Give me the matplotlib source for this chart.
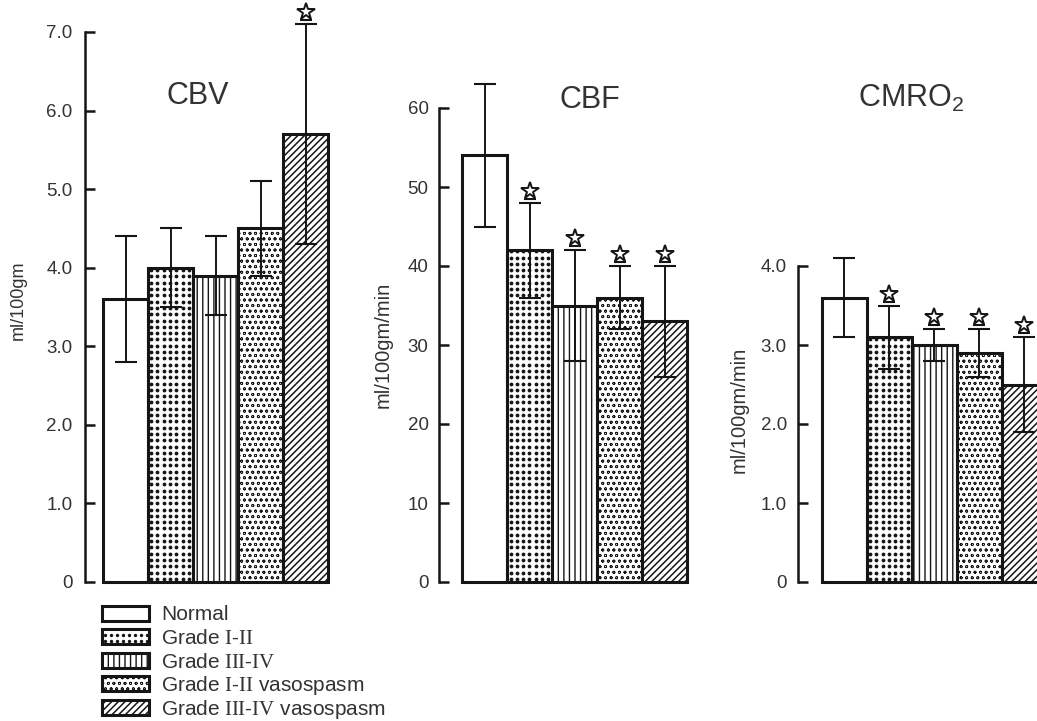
import matplotlib
matplotlib.use("Agg")
import matplotlib.pyplot as plt
from matplotlib.patches import Rectangle
from matplotlib.transforms import offset_copy
import numpy as np

# ---- data -------------------------------------------------------------
groups = ["Normal", "Grade I-II", "Grade III-IV",
          "Grade I-II vasospasm", "Grade III-IV vasospasm"]
legend_labels = ["Normal",
                 r"Grade $\mathrm{I}$-$\mathrm{II}$",
                 r"Grade $\mathrm{III}$-$\mathrm{IV}$",
                 r"Grade $\mathrm{I}$-$\mathrm{II}$ vasospasm",
                 r"Grade $\mathrm{III}$-$\mathrm{IV}$ vasospasm"]

cbv_mean = [3.6, 4.0, 3.9, 4.5, 5.7]
cbv_sd = [0.8, 0.5, 0.5, 0.6, 1.4]
cbv_sig = [False, False, False, False, True]

cbf_mean = [54, 42, 35, 36, 33]
cbf_sd = [9, 6, 7, 4, 7]
cbf_sig = [False, True, True, True, True]

cmro2_mean = [3.6, 3.1, 3.0, 2.9, 2.5]
cmro2_sd = [0.5, 0.4, 0.2, 0.3, 0.6]
cmro2_sig = [False, True, True, True, True]

cbv_ticks = [0, 1, 2, 3, 4, 5, 6, 7]
cbv_ticklabels = ["0", "1.0", "2.0", "3.0", "4.0", "5.0", "6.0", "7.0"]
cbf_ticks = [0, 10, 20, 30, 40, 50, 60]
cbf_ticklabels = ["0", "10", "20", "30", "40", "50", "60"]
cmro2_ticks = [0, 1, 2, 3, 4]
cmro2_ticklabels = ["0", "1.0", "2.0", "3.0", "4.0"]

# ---- style ------------------------------------------------------------
INK = "#151515"
TXT = "#333333"
# group 1 (Grade I-II) gets a square grid of bold dots drawn separately
hatches = ["", "", "|||", "ooo", "/////"]
hatch_lw = [1.0, 1.0, 1.0, 0.55, 1.1]
DOTTED = 1

plt.rcParams["font.family"] = ["Liberation Sans", "DejaVu Sans"]
plt.rcParams["mathtext.fontset"] = "custom"
plt.rcParams["mathtext.rm"] = "Liberation Serif"
plt.rcParams["mathtext.sf"] = "Liberation Sans"
plt.rcParams["hatch.color"] = INK
plt.rcParams["hatch.linewidth"] = 1.0

W, H = 1037, 721
fig = plt.figure(figsize=(W / 100, H / 100), dpi=100)


def px_axes(x_spine, y_zero, y_top, xlim):
    """Axes whose left spine sits at x_spine px and whose y-range spans y_zero..y_top px."""
    left = x_spine / W
    bottom = 1 - y_zero / H
    height = (y_zero - y_top) / H
    width = (xlim[1] - xlim[0]) * 45 / W
    ax = fig.add_axes([left, bottom, width, height])
    ax.set_xlim(*xlim)
    return ax


def dot_grid(ax, patch, step=6.3, dot=3.8):
    """Fill a rectangle (in ax data coords) with a square grid of round dots."""
    tr = ax.transData
    (x0, y0), (x1, y1) = tr.transform(
        [(patch.get_x(), patch.get_y()),
         (patch.get_x() + patch.get_width(), patch.get_y() + patch.get_height())])
    xlo, xhi = sorted((x0, x1))
    ylo, yhi = sorted((y0, y1))
    xs = np.arange(xlo + step / 2, xhi - 1, step)
    ys = np.arange(ylo + step / 2, yhi - 1, step)
    gx, gy = np.meshgrid(xs, ys)
    pts = tr.inverted().transform(np.c_[gx.ravel(), gy.ravel()])
    sc = ax.scatter(pts[:, 0], pts[:, 1], s=(dot * 0.72) ** 2, marker="o",
                    color=INK, linewidths=0, zorder=patch.get_zorder() - 0.1)
    sc.set_clip_path(patch)


def set_hatch_lw(p, lw):
    if hasattr(p, "set_hatch_linewidth"):
        p.set_hatch_linewidth(lw)


def draw_panel(ax, means, sds, sig, ticks, ticklabels, ylabel, label_fs,
               label_pos, pad):
    ax.set_ylim(ticks[0], ticks[-1])
    x = np.arange(len(means))
    for i in range(len(means)):
        with plt.rc_context({"hatch.linewidth": hatch_lw[i]}):
            b = ax.bar(x[i], means[i], width=1.0,
                       color="none" if i == DOTTED else "white",
                       edgecolor=INK, linewidth=2.2, hatch=hatches[i] or None,
                       clip_on=False, zorder=2)
        for p in b:
            set_hatch_lw(p, hatch_lw[i])
            if i == DOTTED:
                dot_grid(ax, p)
    ax.errorbar(x, means, yerr=sds, fmt="none", ecolor=INK, elinewidth=1.4,
                capsize=8, capthick=1.5, zorder=3, clip_on=False)
    tops = np.array(means) + np.array(sds)
    star_tr = offset_copy(ax.transData, fig=fig, y=12, units="dots")
    bar_tr = offset_copy(ax.transData, fig=fig, y=4, units="dots")
    for i, s in enumerate(sig):
        if s:
            ax.plot(x[i], tops[i], marker="_", ms=8, mew=1.5, color=INK,
                    transform=bar_tr, clip_on=False, zorder=4)
            ax.plot(x[i], tops[i], marker="*", ms=13, mfc="white", mec=INK,
                    mew=1.4, transform=star_tr, clip_on=False, zorder=4)

    ax.set_ylim(ticks[0], ticks[-1])
    ax.set_yticks(ticks)
    ax.set_yticklabels(ticklabels)
    ax.set_xticks([])
    for side in ("top", "right", "bottom"):
        ax.spines[side].set_visible(False)
    ax.spines["left"].set_linewidth(1.8)
    ax.spines["left"].set_color(INK)
    ax.tick_params(axis="y", direction="in", length=7, width=1.8,
                   color=INK, pad=pad, labelsize=13.5, labelcolor=TXT)
    ax.set_ylabel(ylabel, fontsize=label_fs, color=TXT)
    ax.yaxis.label.set_verticalalignment("center")
    ax.yaxis.set_label_coords(*label_pos)
    ax.patch.set_alpha(0)


ax1 = px_axes(85, 582, 32, (-0.9, 4.66))
draw_panel(ax1, cbv_mean, cbv_sd, cbv_sig, cbv_ticks, cbv_ticklabels,
           "ml/100gm", 13, ((18 - 85) / 250, 0.513), 9)

ax2 = px_axes(439, 582, 108, (-1.02, 4.6))
draw_panel(ax2, cbf_mean, cbf_sd, cbf_sig, cbf_ticks, cbf_ticklabels,
           "ml/100gm/min", 14.5, ((383 - 439) / 253, 0.5), 7.5)

ax3 = px_axes(798, 582, 266, (-1.03, 4.6))
draw_panel(ax3, cmro2_mean, cmro2_sd, cmro2_sig, cmro2_ticks,
           cmro2_ticklabels, "ml/100gm/min", 14.5,
           ((739 - 798) / 253, 0.544), 8)

# panel titles
fig.text(198 / W, 1 - 96 / H, "CBV", fontsize=22, color=TXT,
         ha="center", va="center")
fig.text(590 / W, 1 - 100 / H, "CBF", fontsize=22, color=TXT,
         ha="center", va="center")
fig.text(911 / W, 1 - 98 / H, r"CMRO$_\mathsf{2}$", fontsize=22, color=TXT,
         ha="center", va="center")

# legend of the five groups, laid out in pixel coordinates
lax = fig.add_axes([0, 0, 1, 1])
lax.set_xlim(0, W)
lax.set_ylim(H, 0)
lax.axis("off")
for i, lab in enumerate(legend_labels):
    yc = 613 + 23.6 * i
    with plt.rc_context({"hatch.linewidth": hatch_lw[i]}):
        box = Rectangle((102, yc - 7.5), 47, 15,
                        facecolor="none" if i == DOTTED else "white",
                        edgecolor=INK, linewidth=2.2,
                        hatch=hatches[i] or None, zorder=2)
    set_hatch_lw(box, hatch_lw[i])
    lax.add_patch(box)
    if i == DOTTED:
        dot_grid(lax, box, step=6.0, dot=3.4)
    lax.text(161, yc + 7.5, lab, fontsize=15, color=TXT,
             ha="left", va="baseline")

fig.savefig("out.png", dpi=100)
